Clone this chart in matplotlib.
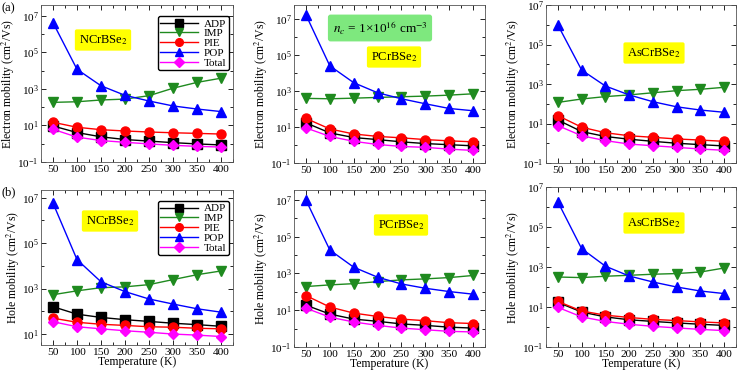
import numpy as np
import matplotlib
matplotlib.use("Agg")
import matplotlib.pyplot as plt

plt.rcParams['font.family'] = ['Liberation Serif', 'DejaVu Serif']
plt.rcParams['mathtext.fontset'] = 'stix'

temps = [50, 100, 150, 200, 250, 300, 350, 400]
series_names = ["ADP", "IMP", "PIE", "POP", "Total"]

# electron mobility (cm^2/Vs)
e_N = {
    "ADP": [9.4, 4.1, 2.4, 1.7, 1.4, 1.15, 0.98, 0.86],
    "IMP": [185, 200, 250, 280, 430, 1100, 2300, 3900],
    "PIE": [15, 8.0, 5.9, 5.0, 4.4, 4.0, 3.7, 3.4],
    "POP": [4.3e6, 1.2e4, 1500, 450, 220, 118, 80, 58],
    "Total": [6.2, 2.3, 1.5, 1.2, 0.98, 0.82, 0.72, 0.66],
}
e_P = {
    "ADP": [17, 4.7, 2.6, 2.0, 1.5, 1.2, 1.04, 0.9],
    "IMP": [390, 370, 400, 440, 480, 520, 590, 700],
    "PIE": [30, 7.8, 4.1, 3.0, 2.5, 2.0, 1.7, 1.5],
    "POP": [1.7e7, 2.5e4, 2900, 800, 370, 195, 107, 80],
    "Total": [8.9, 3.0, 1.6, 1.07, 0.83, 0.74, 0.59, 0.50],
}
e_As = {
    "ADP": [15, 3.9, 2.2, 1.6, 1.25, 1.0, 0.85, 0.73],
    "IMP": [117, 174, 230, 280, 360, 460, 540, 680],
    "PIE": [25, 6.5, 3.4, 2.4, 2.0, 1.65, 1.45, 1.25],
    "POP": [9.7e5, 5100, 790, 280, 127, 70, 48, 37],
    "Total": [7.8, 2.4, 1.36, 0.91, 0.75, 0.62, 0.51, 0.44],
}
# hole mobility (cm^2/Vs)
h_N = {
    "ADP": [160, 75, 54, 43, 36, 30, 26, 22],
    "IMP": [540, 800, 1100, 1200, 1500, 2500, 4100, 6000],
    "PIE": [50, 33, 27, 24, 21, 20, 18, 17],
    "POP": [5.8e6, 1.9e4, 2000, 740, 350, 210, 130, 92],
    "Total": [35, 21, 17, 14, 12, 10, 9, 7.8],
}
h_P = {
    "ADP": [19, 6.2, 3.3, 2.5, 1.8, 1.5, 1.2, 1.07],
    "IMP": [195, 240, 280, 360, 450, 510, 600, 780],
    "PIE": [63, 15, 7.0, 4.6, 3.3, 2.7, 2.1, 1.9],
    "POP": [1e7, 1.9e4, 2200, 630, 270, 157, 104, 75],
    "Total": [13, 4.2, 2.3, 1.5, 1.07, 0.87, 0.71, 0.66],
}
h_As = {
    "ADP": [17, 5.6, 3.2, 2.3, 1.9, 1.6, 1.37, 1.2],
    "IMP": [316, 295, 345, 385, 435, 470, 560, 890],
    "PIE": [19, 6.3, 3.9, 3.0, 2.4, 2.1, 1.8, 1.6],
    "POP": [1.8e6, 8300, 1100, 355, 178, 100, 63, 47],
    "Total": [9.6, 3.2, 1.9, 1.37, 1.08, 0.9, 0.76, 0.66],
}

styles = {
    "ADP": ("black", "s"),
    "IMP": ("#1f8a1f", "v"),
    "PIE": ("#ff0000", "o"),
    "POP": ("#0000ff", "^"),
    "Total": ("#ff00ff", "D"),
}

W, H = 738, 376
fig = plt.figure(figsize=(W / 100, H / 100), dpi=100)


def px_axes(x0, x1, y0, y1):
    return fig.add_axes([x0 / W, 1 - y1 / H, (x1 - x0) / W, (y1 - y0) / H])


panels = [
    # data, x0, x1, y0, y1, ylim, name, label pos, ylabel, legend
    (e_N, 41, 233, 5, 162, (0.1, 4e7), "NCrBSe$_2$", (103, 40), "Electron mobility (cm$^2$/Vs)", True),
    (e_P, 294, 485, 5, 163, (0.1, 6e7), "PCrBSe$_2$", (394, 57), "Electron mobility (cm$^2$/Vs)", False),
    (e_As, 546, 736, 5, 163, (0.1, 1e7), "AsCrBSe$_2$", (654, 53), "Electron mobility (cm$^2$/Vs)", False),
    (h_N, 41, 233, 190, 345, (3.3, 2.2e7), "NCrBSe$_2$", (110, 221), "Hole mobility (cm$^2$/Vs)", True),
    (h_P, 294, 485, 190, 347, (0.1, 3.5e7), "PCrBSe$_2$", (401, 225), "Hole mobility (cm$^2$/Vs)", False),
    (h_As, 546, 736, 187, 347, (0.1, 1e7), "AsCrBSe$_2$", (654, 223), "Hole mobility (cm$^2$/Vs)", False),
]

major_y = [1e-1, 1e1, 1e3, 1e5, 1e7]
minor_y = [1e0, 1e2, 1e4, 1e6]

for i, (data, x0, x1, y0, y1, ylim, name, lpos, ylabel, show_leg) in enumerate(panels):
    ax = px_axes(x0, x1, y0, y1)
    for s in series_names:
        c, m = styles[s]
        ax.plot(temps, data[s], color=c, marker=m, markersize=6.5 if m != "D" else 5.5,
                lw=1.0, label=s, markeredgecolor=c)
    ax.set_yscale("log")
    ax.set_xlim(25, 425)
    ax.set_xticks(temps)
    ax.set_xticks(np.arange(25, 426, 25), minor=True)
    ax.set_yticks([t for t in major_y if ylim[0] <= t <= ylim[1]])
    ax.set_yticks([t for t in minor_y if ylim[0] <= t <= ylim[1]], minor=True)
    ax.set_yticklabels([], minor=True)
    ax.set_ylim(*ylim)
    ax.tick_params(which="both", direction="in", top=True, right=True, labelsize=8.2)
    ax.tick_params(axis="x", pad=2)
    ax.tick_params(axis="y", pad=1.5)
    ax.tick_params(which="major", length=3.5, width=0.6)
    ax.tick_params(which="minor", length=2, width=0.6)
    for sp in ax.spines.values():
        sp.set_linewidth(0.6)
        sp.set_color("#555555")
    ax.set_ylabel(ylabel, fontsize=8.5, labelpad=0)
    if i >= 3:
        ax.set_xlabel("Temperature (K)", fontsize=8.5, labelpad=-0.5)
    if show_leg:
        ax.legend(loc="upper right", bbox_to_anchor=(0.98, 0.93), fontsize=8,
                  fancybox=True, edgecolor="black", framealpha=1,
                  handlelength=3.4, labelspacing=0.0, borderpad=0.25,
                  handletextpad=0.5, borderaxespad=0, markerscale=0.85)
    fig.text(lpos[0] / W, 1 - lpos[1] / H, name, fontsize=9, ha="center", va="center",
             bbox=dict(boxstyle="round,pad=0.3,rounding_size=0.15", facecolor="#ffff00",
                       edgecolor="none"))

fig.text(380 / W, 1 - 28 / H, "$n_c$ = 1×10$^{16}$ cm$^{-3}$", fontsize=9.5,
         ha="center", va="center",
         bbox=dict(boxstyle="round,pad=0.35,rounding_size=0.2", facecolor="#7ee87e",
                   edgecolor="none"))
fig.text(1 / W, 1 - 8 / H, "(a)", fontsize=9, ha="left", va="center")
fig.text(1 / W, 1 - 192 / H, "(b)", fontsize=9, ha="left", va="center")

fig.savefig("out.png", dpi=100)
